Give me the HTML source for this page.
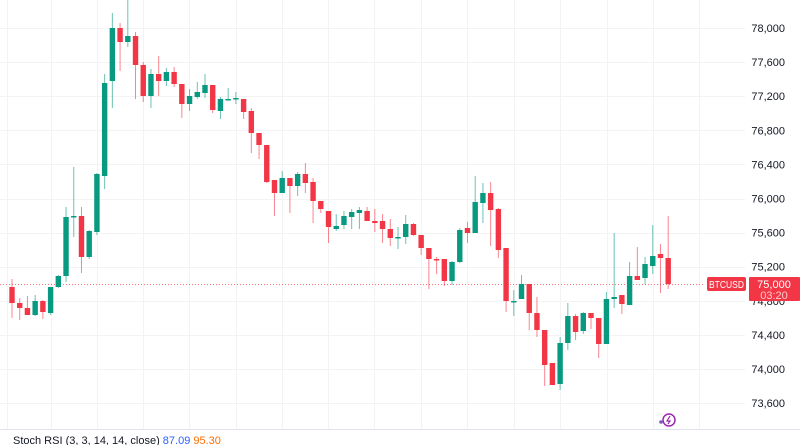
<!DOCTYPE html>
<html><head><meta charset="utf-8"><style>
body{margin:0;background:#fff;width:800px;height:445px;overflow:hidden;font-family:"Liberation Sans",sans-serif}
</style></head><body>
<svg id="s" width="800" height="445" xmlns="http://www.w3.org/2000/svg" style="position:absolute;left:0;top:0">
<g id="grid" stroke="#f3f3f3" stroke-width="1"></g>
<line x1="0" y1="284.5" x2="705" y2="284.5" stroke="#f23645" stroke-width="1" stroke-dasharray="1,2" opacity="0.7"/>
<g id="c"></g>
<line x1="0" y1="429.5" x2="800" y2="429.5" stroke="#e0e3eb"/>
<g id="lab" font-size="11" fill="#131722"></g>
<rect x="707" y="277" width="39" height="14" rx="2" fill="#f23645"/>
<text x="709" y="288" font-size="10" fill="#fff" textLength="35" lengthAdjust="spacingAndGlyphs">BTCUSD</text>
<rect x="749" y="277" width="51" height="24" rx="1" fill="#f23645"/>
<text x="774" y="288" font-size="11" fill="#fff" text-anchor="middle">75,000</text>
<text x="774" y="299" font-size="11" fill="#fcc" text-anchor="middle">03:20</text>
<circle cx="669" cy="420" r="6" fill="none" stroke="#9c27b0" stroke-width="1.5"/>
<path d="M670 416 L667 421 L670 421 L668 424" stroke="#9c27b0" fill="none" stroke-width="1.2"/>
<circle cx="661" cy="422" r="1.8" fill="#7e57c2"/>
<text x="13" y="444" font-size="11" fill="#131722">Stoch RSI (3, 3, 14, 14, close) <tspan fill="#2962ff">87.09</tspan> <tspan fill="#ff6d00">95.30</tspan></text>
</svg>
<script>
var d=[[287,303,279,318,0],[303,308,298,320,0],[308,315,296,315,0],[301,315,295,316,1],[301,312,300,319,0],[287,313,287,315,1],[276,287,275,288,1],[217,276,207,282,1],[216,216,167,237,1],[216,257,207,273,0],[231,257,230,259,1],[174,232,173,235,1],[83,176,74,189,1],[28,81,13,108,1],[28,42,23,71,0],[36,42,0,47,1],[36,65,32,99,0],[65,96,62,102,0],[74,96,69,108,1],[74,81,56,96,0],[72,81,68,86,1],[72,84,67,87,0],[84,104,84,118,0],[96,104,89,111,1],[92,97,82,99,1],[85,93,74,98,1],[85,110,85,113,0],[99,111,97,119,1],[99,99,88,100,1],[98,98,92,104,1],[99,112,99,119,0],[111,133,108,153,0],[133,145,133,159,0],[145,182,145,183,0],[180,193,180,216,0],[178,193,171,193,1],[178,186,178,213,0],[174,186,172,196,1],[174,183,163,193,0],[182,201,178,223,0],[201,209,201,213,0],[211,227,211,243,0],[226,229,214,231,1],[216,225,211,229,1],[212,217,209,229,1],[210,213,207,229,1],[211,221,207,221,0],[221,223,209,232,0],[221,229,214,243,0],[229,238,219,246,0],[237,237,227,249,1],[224,237,215,244,1],[224,235,223,236,0],[235,248,235,255,0],[248,259,248,289,0],[259,259,257,274,0],[259,281,259,286,0],[262,281,261,285,1],[230,262,228,263,1],[228,233,222,243,0],[202,233,176,233,1],[193,203,183,223,1],[193,210,182,246,0],[209,250,208,258,0],[248,301,248,312,0],[301,301,290,316,1],[284,299,275,299,1],[284,313,284,330,0],[313,330,297,337,0],[330,365,330,386,0],[363,385,363,385,0],[343,384,337,390,1],[316,343,303,350,1],[316,332,314,340,0],[313,331,312,334,1],[313,318,313,329,0],[318,344,318,358,0],[299,344,292,344,1],[297,299,233,308,1],[295,304,295,314,0],[276,305,262,305,1],[276,280,247,280,0],[264,278,257,284,1],[256,266,225,274,1],[254,258,244,293,0],[258,284,216,289,0]];
var h='';
d.forEach(function(c,i){var x=12+i*7.72;var col=c[4]?'#089981':'#f23645';
h+='<line x1="'+x+'" y1="'+c[2]+'" x2="'+x+'" y2="'+c[3]+'" stroke="'+col+'" stroke-opacity="0.6" stroke-width="1"/>';
var hh=Math.max(1.5,c[1]-c[0]);h+='<rect x="'+(x-2.7)+'" y="'+c[0]+'" width="5.4" height="'+hh+'" fill="'+col+'"/>';});
document.getElementById('c').innerHTML=h;
var g='';[7,51,97,143,189,236,282,328,374,421,467,514,560,607,653,699].forEach(function(x){g+='<line x1="'+(x+.5)+'" y1="0" x2="'+(x+.5)+'" y2="430"/>';});
var l='';var p=['78,000','77,600','77,200','76,800','76,400','76,000','75,600','75,200','74,800','74,400','74,000','73,600'];
p.forEach(function(t,k){var y=28+k*34.1;g+='<line x1="0" y1="'+(Math.round(y)+.5)+'" x2="745" y2="'+(Math.round(y)+.5)+'"/>';l+='<text x="785" y="'+(y+4)+'" text-anchor="end">'+t+'</text>';});
document.getElementById('grid').innerHTML=g;document.getElementById('lab').innerHTML=l;
</script>
</body></html>
